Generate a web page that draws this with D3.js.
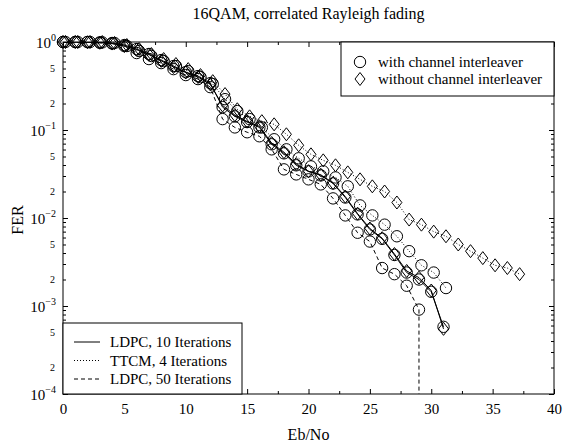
<!DOCTYPE html>
<html>
<head>
<meta charset="utf-8">
<script src="https://cdn.jsdelivr.net/npm/d3@7"></script>
<style>
  body { margin: 0; background: #fff; }
  svg text { font-family: "Liberation Serif", "Times New Roman", serif; fill: #000; }
</style>
</head>
<body>
<script>
const WIDTH = 571;
const HEIGHT = 443;
const plot = { left: 63, right: 554, top: 42, bottom: 394 };

// Eb/No grids (dB)
const ebnoLdpc10 = [0,1,2,3,4,5,6,7,8,9,10,11,12,13,14,15,16,17,18,19,20,21,22,23,24,25,26,27,28,29,30,31];
const ebnoLdpc50 = [0,1,2,3,4,5,6,7,8,9,10,11,12,13,14,15,16,17,18,19,20,21,22,23,24,25,26,27,28,29];
const ebnoTtcmWith = [0.2,1.2,2.2,3.2,4.2,5.2,6.2,7.2,8.2,9.2,10.2,11.2,12.2,13.2,14.2,15.2,16.2,17.2,18.2,19.2,20.2,21.2,22.2,23.2,24.2,25.2,26.2,27.2,28.2,29.2,30.2,31.2];
const ebnoTtcmWithout = [0.2,1.2,2.2,3.2,4.2,5.2,6.2,7.2,8.2,9.2,10.2,11.2,12.2,13.2,14.2,15.2,16.2,17.2,18.2,19.2,20.2,21.2,22.2,23.2,24.2,25.2,26.2,27.2,28.2,29.2,30.2,31.2,32.2,33.2,34.2,35.2,36.2,37.2];

// FER values
const ferLdpc10With = [1.0,1.0,1.0,0.99,0.974,0.924,0.832,0.73,0.623,0.533,0.455,0.41,0.341,0.182,0.143,0.123,0.107,0.0688,0.0543,0.0397,0.0339,0.0305,0.0247,0.0171,0.011,0.0074,0.0058,0.0038,0.0024,0.002,0.00145,0.00058];
const ferLdpc10Without = [1.0,1.0,0.99,0.98,0.96,0.9,0.82,0.72,0.61,0.52,0.45,0.4,0.33,0.19,0.148,0.125,0.11,0.071,0.056,0.041,0.034,0.031,0.025,0.0175,0.0112,0.0076,0.0059,0.0039,0.0025,0.0021,0.0015,0.00055];
const ferLdpc50With = [1.0,1.0,1.0,0.98,0.96,0.9,0.749,0.64,0.576,0.492,0.421,0.379,0.307,0.133,0.107,0.0943,0.0849,0.0603,0.0357,0.0313,0.0275,0.0241,0.0167,0.0107,0.0068,0.0054,0.0027,0.0023,0.0017,0.00091];
const ferTtcmWith = [1.0,1.0,1.0,0.99,0.974,0.9,0.79,0.693,0.607,0.533,0.467,0.399,0.332,0.224,0.164,0.133,0.107,0.0785,0.0603,0.0477,0.0386,0.0339,0.0289,0.0229,0.0139,0.0107,0.0084,0.0062,0.0042,0.0029,0.0024,0.0016];
const ferTtcmWithout = [1.0,1.0,1.0,1.0,0.974,0.924,0.832,0.73,0.64,0.562,0.492,0.421,0.359,0.256,0.172,0.143,0.126,0.116,0.0894,0.067,0.0529,0.0452,0.0397,0.033,0.0275,0.0229,0.02,0.015,0.0096,0.0084,0.007,0.0062,0.005,0.0042,0.0035,0.0029,0.0027,0.0023];

const xTicks = [0,5,10,15,20,25,30,35,40];
const xMinorTicks = [2.5,7.5,12.5,17.5,22.5,27.5,32.5,37.5];
const yExponents = [0,-1,-2,-3,-4];
const yMantissaLabels = [2,5];

const title = '16QAM, correlated Rayleigh fading';
const lineLegend = ['LDPC, 10 Iterations', 'TTCM, 4 Iterations', 'LDPC, 50 Iterations'];
const markerLegend = ['with channel interleaver', 'without channel interleaver'];

const dashes = { solid: null, dotted: '1,2', dashed: '4,3' };

const series = [
  { x: ebnoTtcmWithout, y: ferTtcmWithout, line: 'dotted', marker: 'diamond' },
  { x: ebnoTtcmWith, y: ferTtcmWith, line: 'dotted', marker: 'circle' },
  { x: ebnoLdpc50, y: ferLdpc50With, line: 'dashed', marker: 'circle', drop: true },
  { x: ebnoLdpc10, y: ferLdpc10Without, line: 'solid', marker: 'diamond' },
  { x: ebnoLdpc10, y: ferLdpc10With, line: 'solid', marker: 'circle' },
];

const svg = d3.select('body')
  .append('svg')
  .attr('width', WIDTH)
  .attr('height', HEIGHT)

const x = d3.scaleLinear().domain([0, 40]).range([plot.left, plot.right])
const y = d3.scaleLog().domain([1e-4, 1]).range([plot.bottom, plot.top])

svg.append('clipPath')
  .attr('id', 'clip')
  .append('rect')
  .attr('x', plot.left)
  .attr('y', plot.top)
  .attr('width', plot.right - plot.left)
  .attr('height', plot.bottom - plot.top)

const diamond = 'M0,-6.5L5,0L0,6.5L-5,0Z'

const drawMarker = (sel, type) => {
  if (type == 'circle') {
    sel.append('circle').attr('r', 5.7)
  } else {
    sel.append('path').attr('d', diamond)
  }
  sel.attr('fill', 'none').attr('stroke', '#000').attr('stroke-width', 1)
}

const line = d3.line().x(d => x(d[0])).y(d => y(d[1]))

series.forEach(s => {
  const pts = s.x.map((v, i) => [v, s.y[i]])
  const g = svg.append('g')

  g.append('path')
    .attr('clip-path', 'url(#clip)')
    .attr('d', line(pts))
    .attr('fill', 'none')
    .attr('stroke', '#000')
    .attr('stroke-width', 1)
    .attr('stroke-dasharray', dashes[s.line])

  if (s.drop) {
    const last = pts[pts.length - 1]
    g.append('line')
      .attr('x1', x(last[0])).attr('x2', x(last[0]))
      .attr('y1', y(last[1])).attr('y2', y(y.domain()[0]))
      .attr('stroke', '#000')
      .attr('stroke-dasharray', dashes.dashed)
  }

  g.selectAll('g.mk')
    .data(pts)
    .enter()
    .append('g')
    .attr('class', 'mk')
    .attr('transform', d => 'translate(' + x(d[0]) + ',' + y(d[1]) + ')')
    .each(function () { drawMarker(d3.select(this), s.marker) })
})

// axes with inward ticks
const styleAxis = g => {
  g.select('.domain').remove()
  g.attr('font-family', null).attr('font-size', null)
  g.selectAll('line').attr('stroke', '#000')
}

const yDecadeVals = yExponents.map(e => Math.pow(10, e))
const yMinorVals = y.ticks().filter(v => !yDecadeVals.some(d => Math.abs(d - v) < v * 1e-6))

svg.append('g')
  .attr('transform', 'translate(0,' + plot.bottom + ')')
  .call(d3.axisBottom(x).tickValues(xTicks).tickSize(-5).tickPadding(9).tickFormat(d3.format('d')))
  .call(styleAxis)
  .selectAll('text').style('font-size', '15px')

svg.append('g')
  .attr('transform', 'translate(0,' + plot.bottom + ')')
  .call(d3.axisBottom(x).tickValues(xMinorTicks).tickSize(-3).tickFormat(''))
  .call(styleAxis)

svg.append('g')
  .attr('transform', 'translate(0,' + plot.top + ')')
  .call(d3.axisTop(x).tickValues(xTicks).tickSize(-5).tickFormat(''))
  .call(styleAxis)

svg.append('g')
  .attr('transform', 'translate(0,' + plot.top + ')')
  .call(d3.axisTop(x).tickValues(xMinorTicks).tickSize(-3).tickFormat(''))
  .call(styleAxis)

svg.append('g')
  .attr('transform', 'translate(' + plot.left + ',0)')
  .call(d3.axisLeft(y).tickValues(yDecadeVals).tickSize(-5).tickFormat(''))
  .call(styleAxis)

svg.append('g')
  .attr('transform', 'translate(' + plot.left + ',0)')
  .call(d3.axisLeft(y).tickValues(yMinorVals).tickSize(-3).tickFormat(''))
  .call(styleAxis)

svg.append('g')
  .attr('transform', 'translate(' + plot.right + ',0)')
  .call(d3.axisRight(y).tickValues(yDecadeVals).tickSize(-5).tickFormat(''))
  .call(styleAxis)

svg.append('g')
  .attr('transform', 'translate(' + plot.right + ',0)')
  .call(d3.axisRight(y).tickValues(yMinorVals).tickSize(-3).tickFormat(''))
  .call(styleAxis)

// y labels
const decadeLabels = svg.append('g')
  .selectAll('text')
  .data(yExponents)
  .enter()
  .append('text')
  .attr('x', plot.left - 7)
  .attr('y', d => y(Math.pow(10, d)) + 6)
  .attr('text-anchor', 'end')
  .style('font-size', '15px')

decadeLabels.append('tspan').text('10')
decadeLabels.append('tspan')
  .attr('dy', -7)
  .style('font-size', '10px')
  .text(d => d == 0 ? '0' : '\u2212' + Math.abs(d))

const smallLabels = []
yExponents.slice(1).forEach(e => yMantissaLabels.forEach(m => smallLabels.push(m * Math.pow(10, e))))

svg.append('g')
  .selectAll('text')
  .data(smallLabels)
  .enter()
  .append('text')
  .attr('x', plot.left - 8)
  .attr('y', d => y(d) + 3.5)
  .attr('text-anchor', 'end')
  .style('font-size', '10px')
  .text(d => String(Math.round(d / Math.pow(10, Math.floor(Math.log10(d) + 1e-9)))))

// frame
svg.append('rect')
  .attr('x', plot.left)
  .attr('y', plot.top)
  .attr('width', plot.right - plot.left)
  .attr('height', plot.bottom - plot.top)
  .attr('fill', 'none')
  .attr('stroke', '#000')

// titles
svg.append('text')
  .attr('x', (plot.left + plot.right) / 2)
  .attr('y', 19)
  .attr('text-anchor', 'middle')
  .style('font-size', '16px')
  .text(title)

svg.append('text')
  .attr('x', (plot.left + plot.right) / 2)
  .attr('y', 440)
  .attr('text-anchor', 'middle')
  .style('font-size', '16px')
  .text('Eb/No')

svg.append('text')
  .attr('transform', 'translate(23,' + ((plot.top + plot.bottom) / 2 + 2) + ') rotate(-90)')
  .attr('text-anchor', 'middle')
  .style('font-size', '16px')
  .text('FER')

// marker legend (top right)
const mLeg = svg.append('g')
mLeg.append('rect')
  .attr('x', 341).attr('y', plot.top)
  .attr('width', plot.right - 341).attr('height', 54)
  .attr('fill', '#fff').attr('stroke', '#000')

mLeg.selectAll('g.item')
  .data(markerLegend)
  .enter()
  .append('g')
  .attr('class', 'item')
  .attr('transform', (d, i) => 'translate(360,' + (62 + i * 17) + ')')
  .each(function (d, i) {
    const g = d3.select(this)
    drawMarker(g.append('g'), i == 0 ? 'circle' : 'diamond')
    g.append('text')
      .attr('x', 18)
      .attr('y', 4.5)
      .style('font-size', '15px')
      .text(d)
  })

// line legend (bottom left)
const lLeg = svg.append('g')
lLeg.append('rect')
  .attr('x', plot.left).attr('y', 323)
  .attr('width', 242 - plot.left).attr('height', plot.bottom - 323)
  .attr('fill', '#fff').attr('stroke', '#000')

const lineKeys = ['solid', 'dotted', 'dashed']
lLeg.selectAll('g.item')
  .data(lineLegend)
  .enter()
  .append('g')
  .attr('class', 'item')
  .attr('transform', (d, i) => 'translate(0,' + (342 + i * 18.5) + ')')
  .each(function (d, i) {
    const g = d3.select(this)
    g.append('line')
      .attr('x1', 74).attr('x2', 100)
      .attr('stroke', '#000')
      .attr('stroke-dasharray', dashes[lineKeys[i]])
    g.append('text')
      .attr('x', 110)
      .attr('y', 5)
      .style('font-size', '15px')
      .text(d)
  })
</script>
</body>
</html>
